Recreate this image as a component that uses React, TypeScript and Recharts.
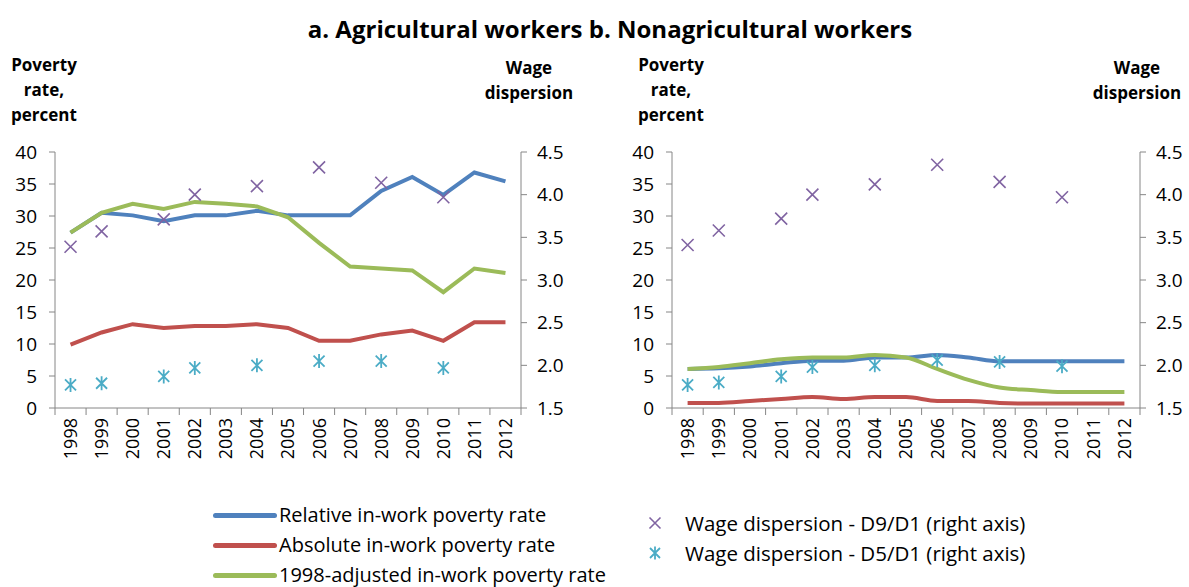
import React from 'react';
import { ComposedChart, Line, XAxis, YAxis } from 'recharts';

const years = ['1998', '1999', '2000', '2001', '2002', '2003', '2004', '2005', '2006', '2007', '2008', '2009', '2010', '2011', '2012'];
const leftTicks = [0, 5, 10, 15, 20, 25, 30, 35, 40];
const rightTicks = [1.5, 2, 2.5, 3, 3.5, 4, 4.5];

// a. Agricultural workers
const agriRelative = [27.4, 30.5, 30.1, 29.2, 30.1, 30.1, 30.8, 30.1, 30.1, 30.1, 33.9, 36.1, 33.3, 36.8, 35.4];
const agriAbsolute = [9.9, 11.8, 13.1, 12.5, 12.8, 12.8, 13.1, 12.5, 10.5, 10.5, 11.5, 12.1, 10.5, 13.4, 13.4];
const agriAdjusted = [27.4, 30.5, 31.9, 31.1, 32.2, 31.9, 31.5, 29.8, 25.8, 22.1, 21.8, 21.5, 18.1, 21.8, 21.1];
const agriD9D1 = [3.39, 3.57, null, 3.71, 4.0, null, 4.1, null, 4.32, null, 4.14, null, 3.97, null, null];
const agriD5D1 = [1.77, 1.79, null, 1.87, 1.97, null, 2.0, null, 2.05, null, 2.05, null, 1.97, null, null];

// b. Nonagricultural workers
const nonRelative = [6.1, 6.2, 6.5, 7.0, 7.4, 7.4, 7.9, 7.9, 8.3, 7.9, 7.3, 7.3, 7.3, 7.3, 7.3];
const nonAbsolute = [0.8, 0.8, 1.1, 1.4, 1.7, 1.4, 1.7, 1.7, 1.1, 1.1, 0.8, 0.7, 0.7, 0.7, 0.7];
const nonAdjusted = [6.1, 6.4, 7.0, 7.6, 7.9, 7.9, 8.3, 7.9, 6.1, 4.4, 3.2, 2.8, 2.5, 2.5, 2.5];
const nonD9D1 = [3.41, 3.58, null, 3.72, 4.0, null, 4.12, null, 4.35, null, 4.15, null, 3.97, null, null];
const nonD5D1 = [1.77, 1.8, null, 1.87, 1.98, null, 2.0, null, 2.06, null, 2.04, null, 1.99, null, null];

const BLUE = '#4F81BD';
const RED = '#C0504D';
const GREEN = '#9BBB59';
const PURPLE = '#8064A2';
const CYAN = '#4BACC6';
const AXIS = '#868686';
const FONT = '"Open Sans", Lato, sans-serif';

const buildRows = (rel, abs, adj, d9, d5) =>
  years.map((year, i) => ({ year, rel: rel[i], abs: abs[i], adj: adj[i], d9: d9[i], d5: d5[i] }));

const agriRows = buildRows(agriRelative, agriAbsolute, agriAdjusted, agriD9D1, agriD5D1);
const nonRows = buildRows(nonRelative, nonAbsolute, nonAdjusted, nonD9D1, nonD5D1);

const crossPath = (cx, cy, s) => `M${cx - s},${cy - s}L${cx + s},${cy + s}M${cx + s},${cy - s}L${cx - s},${cy + s}`;

const CrossDot = (props) => {
  const { cx, cy, value, index } = props;
  if (value == null || cy == null || isNaN(cy)) return <g key={`x-${index}`} />;
  return <path key={`x-${index}`} d={crossPath(cx, cy, 6)} stroke={PURPLE} strokeWidth={1.6} fill="none" />;
};

const StarDot = (props) => {
  const { cx, cy, value, index } = props;
  if (value == null || cy == null || isNaN(cy)) return <g key={`s-${index}`} />;
  return (
    <path
      key={`s-${index}`}
      d={`${crossPath(cx, cy, 5.5)}M${cx},${cy - 7}L${cx},${cy + 7}`}
      stroke={CYAN}
      strokeWidth={1.8}
      fill="none"
    />
  );
};

// year label plus Excel-style tick marks between categories
const YearTick = ({ x, y, payload, index, visibleTicksCount }) => {
  const half = payload && payload.offset ? payload.offset : 0;
  const last = index === visibleTicksCount - 1;
  return (
    <g>
      {half > 0 && <line x1={x - half} x2={x - half} y1={y} y2={y + 7} stroke={AXIS} />}
      {half > 0 && last && <line x1={x + half} x2={x + half} y1={y} y2={y + 7} stroke={AXIS} />}
      <text
        x={x}
        y={y + 10}
        transform={`rotate(-90, ${x}, ${y + 10})`}
        textAnchor="end"
        dy="0.36em"
        fontSize={18}
        fontFamily={FONT}
        fill="#000"
      >
        {payload.value}
      </text>
    </g>
  );
};

function Panel({ rows, smooth, left, width, leftW, rightW }) {
  const type = smooth ? 'monotone' : 'linear';
  const tickStyle = { fontSize: 19, fontFamily: FONT, fill: '#000' };
  return (
    <div style={{ position: 'absolute', left, top: 0 }}>
      <ComposedChart width={width} height={480} data={rows} margin={{ top: 152, right: 0, bottom: 0, left: 0 }}>
        <XAxis
          xAxisId="cat"
          dataKey="year"
          scale="band"
          interval={0}
          height={72}
          stroke={AXIS}
          tickLine={false}
          tickSize={0}
          tickMargin={0}
          tick={<YearTick />}
        />
        <YAxis
          yAxisId="left"
          domain={[0, 40]}
          ticks={leftTicks}
          width={leftW}
          tickSize={6}
          tickMargin={12}
          stroke={AXIS}
          tick={tickStyle}
        />
        <YAxis
          yAxisId="right"
          orientation="right"
          domain={[1.5, 4.5]}
          ticks={rightTicks}
          width={rightW}
          tickSize={6}
          tickMargin={10}
          stroke={AXIS}
          tick={tickStyle}
          tickFormatter={(v) => v.toFixed(1)}
        />
        <Line xAxisId="cat" yAxisId="left" type={type} dataKey="rel" stroke={BLUE} strokeWidth={4} dot={false} isAnimationActive={false} />
        <Line xAxisId="cat" yAxisId="left" type={type} dataKey="abs" stroke={RED} strokeWidth={4} dot={false} isAnimationActive={false} />
        <Line xAxisId="cat" yAxisId="left" type={type} dataKey="adj" stroke={GREEN} strokeWidth={4} dot={false} isAnimationActive={false} />
        <Line xAxisId="cat" yAxisId="right" dataKey="d9" stroke="none" dot={CrossDot} activeDot={false} isAnimationActive={false} />
        <Line xAxisId="cat" yAxisId="right" dataKey="d5" stroke="none" dot={StarDot} activeDot={false} isAnimationActive={false} />
      </ComposedChart>
    </div>
  );
}

const label = (text, x, y, w) => (
  <div
    style={{
      position: 'absolute',
      left: x - w / 2,
      top: y,
      width: w,
      textAlign: 'center',
      fontWeight: 700,
      fontSize: 17,
      lineHeight: '25px',
      fontFamily: FONT,
      whiteSpace: 'pre-line',
    }}
  >
    {text}
  </div>
);

const lineLegend = [
  { name: 'Relative in-work poverty rate', color: BLUE },
  { name: 'Absolute in-work poverty rate', color: RED },
  { name: '1998-adjusted in-work poverty rate', color: GREEN },
];

const markerLegend = [
  { name: 'Wage dispersion - D9/D1 (right axis)', shape: 'x' },
  { name: 'Wage dispersion - D5/D1 (right axis)', shape: 's' },
];

export default function App() {
  return (
    <div style={{ position: 'absolute', left: 0, top: 0, width: 1189, height: 587, background: '#fff', fontFamily: FONT, overflow: 'hidden' }}>
      <div style={{ position: 'absolute', left: 0, top: 12, width: 1220, textAlign: 'center', fontWeight: 700, fontSize: 24 }}>
        a. Agricultural workers b. Nonagricultural workers
      </div>
      {label('Poverty\nrate,\npercent', 44, 52, 100)}
      {label('Wage\ndispersion', 529, 55, 100)}
      {label('Poverty\nrate,\npercent', 671, 52, 100)}
      {label('Wage\ndispersion', 1137, 55, 100)}
      <Panel rows={agriRows} smooth={false} left={0} width={600} leftW={55} rightW={79} />
      <Panel rows={nonRows} smooth={true} left={600} width={589} leftW={72} rightW={49} />
      <div style={{ position: 'absolute', left: 213, top: 500 }}>
        {lineLegend.map((item) => (
          <div key={item.name} style={{ display: 'flex', alignItems: 'center', height: 30 }}>
            <div style={{ width: 64, height: 5, borderRadius: 2.5, background: item.color }} />
            <span style={{ fontSize: 20, lineHeight: '22px', marginLeft: 2 }}>{item.name}</span>
          </div>
        ))}
      </div>
      <div style={{ position: 'absolute', left: 645, top: 508 }}>
        {markerLegend.map((item) => (
          <div key={item.name} style={{ display: 'flex', alignItems: 'center', height: 30 }}>
            <svg width={20} height={20}>
              {item.shape === 'x' ? (
                <path d={crossPath(10, 10, 5.5)} stroke={PURPLE} strokeWidth={1.6} fill="none" />
              ) : (
                <path d={`${crossPath(10, 10, 5)}M10,3.5L10,16.5`} stroke={CYAN} strokeWidth={1.8} fill="none" />
              )}
            </svg>
            <span style={{ fontSize: 20.5, lineHeight: '22px', marginLeft: 20 }}>{item.name}</span>
          </div>
        ))}
      </div>
    </div>
  );
}
